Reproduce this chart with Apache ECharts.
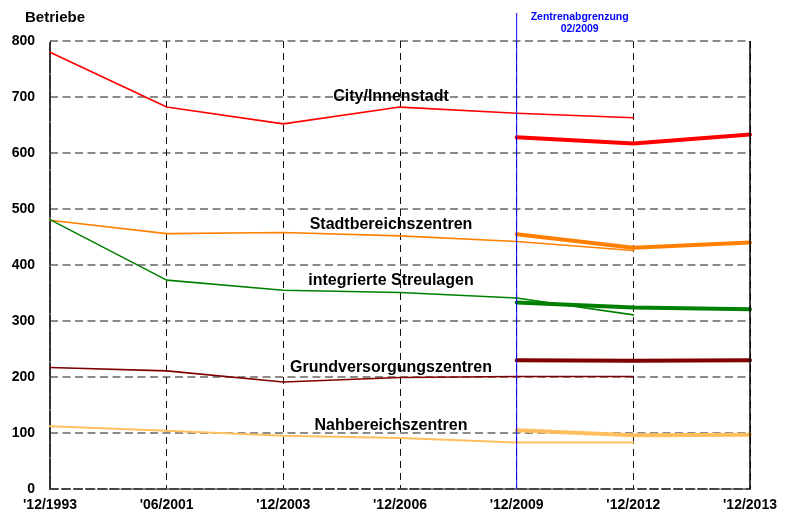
<!DOCTYPE html>
<html>
<head>
<meta charset="utf-8">
<script src="https://cdn.jsdelivr.net/npm/echarts@6/dist/echarts.min.js"></script>
<style>
  html, body { margin: 0; padding: 0; background: #fff; }
  #chart { width: 790px; height: 515px; }
</style>
</head>
<body>
<div id="chart"></div>
<script>
// Stichtage der Erhebungen
const categories = ["'12/1993", "'06/2001", "'12/2003", "'12/2006", "'12/2009", "'12/2012", "'12/2013"];

// Zahl der Betriebe nach alter Zentrenabgrenzung (bis 12/2012)
const cityOld         = [780, 682, 652, 682, 671, 663, null];
const stadtbereichOld = [480, 456, 458, 452, 442, 426, null];
const streulagenOld   = [481, 373, 355, 351, 341, 311, null];
const grundversOld    = [217, 211, 191, 199, 201, 201, null];
const nahbereichOld   = [112, 104, 95, 91, 83, 83, null];

// Zahl der Betriebe nach Zentrenabgrenzung 02/2009
const cityNew         = [null, null, null, null, 628, 617, 633];
const stadtbereichNew = [null, null, null, null, 455, 431, 440];
const streulagenNew   = [null, null, null, null, 333, 324, 321];
const grundversNew    = [null, null, null, null, 230, 229, 230];
const nahbereichNew   = [null, null, null, null, 105, 96, 97];

const yTicks = [0, 100, 200, 300, 400, 500, 600, 700, 800];

const FONT = '"Liberation Sans", Arial, sans-serif';

function line(name, data, color, width) {
  return {
    name: name,
    type: 'line',
    data: data,
    symbol: 'none',
    connectNulls: false,
    lineStyle: { color: color, width: width, join: 'round', cap: 'round' },
    itemStyle: { color: color },
    z: width > 2 ? 4 : 3,
    animation: false
  };
}

const chart = echarts.init(document.getElementById('chart'), null, { renderer: 'canvas' });

chart.setOption({
  animation: false,
  backgroundColor: '#ffffff',
  grid: { left: 50, right: 40, top: 41, bottom: 26 },
  xAxis: {
    type: 'category',
    data: categories,
    boundaryGap: false,
    axisLine: { show: true, lineStyle: { color: '#444', width: 2, type: [8, 4] } },
    axisTick: { show: false },
    axisLabel: {
      color: '#000', fontFamily: FONT, fontWeight: 'bold', fontSize: 14,
      margin: 9, interval: 0
    },
    splitLine: { show: true, lineStyle: { color: '#111', width: 1, type: [7, 5] } }
  },
  yAxis: {
    type: 'value',
    min: yTicks[0],
    max: yTicks[yTicks.length - 1],
    interval: 100,
    axisLine: { show: true, lineStyle: { color: '#333', width: 2, type: [14, 2] } },
    axisTick: { show: false },
    axisLabel: {
      color: '#000', fontFamily: FONT, fontWeight: 'bold', fontSize: 14,
      margin: 15
    },
    splitLine: { show: true, lineStyle: { color: '#666', width: 1.5, type: [8, 4.5] } }
  },
  series: [
    line('City/Innenstadt', cityOld, '#ff0000', 1.6),
    line('Stadtbereichszentren', stadtbereichOld, '#ff8000', 1.6),
    line('integrierte Streulagen', streulagenOld, '#008000', 1.6),
    line('Grundversorgungszentren', grundversOld, '#800000', 1.6),
    line('Nahbereichszentren', nahbereichOld, '#ffbf5f', 2),
    line('City/Innenstadt 2009', cityNew, '#ff0000', 4),
    line('Stadtbereichszentren 2009', stadtbereichNew, '#ff8000', 4),
    line('integrierte Streulagen 2009', streulagenNew, '#008000', 4),
    line('Grundversorgungszentren 2009', grundversNew, '#800000', 4),
    line('Nahbereichszentren 2009', nahbereichNew, '#ffbf5f', 4)
  ]
});

// Beschriftungen, Trennlinie Zentrenabgrenzung und rechter Rahmen
const xSplit = chart.convertToPixel({ xAxisIndex: 0 }, categories[4]);
const xRight = chart.convertToPixel({ xAxisIndex: 0 }, categories[6]);
const yTop = chart.convertToPixel({ yAxisIndex: 0 }, 800);
const yBottom = chart.convertToPixel({ yAxisIndex: 0 }, 0);
const xMid = chart.convertToPixel({ xAxisIndex: 0 }, categories[3]);

function seriesLabel(text, value) {
  return {
    type: 'text',
    x: xMid - 9,
    y: chart.convertToPixel({ yAxisIndex: 0 }, value),
    style: {
      text: text, fill: '#000', font: 'bold 16px ' + FONT,
      align: 'center', verticalAlign: 'middle'
    },
    z: 10
  };
}

chart.setOption({
  graphic: [
    {
      type: 'line',
      shape: { x1: xRight, y1: yTop, x2: xRight, y2: yBottom },
      style: { stroke: '#000', lineWidth: 1.5 },
      z: 5
    },
    {
      type: 'line',
      shape: { x1: xSplit, y1: 13, x2: xSplit, y2: yBottom },
      style: { stroke: '#0000ff', lineWidth: 1 },
      z: 6
    },
    {
      type: 'text',
      x: xSplit + 63,
      y: 23,
      style: {
        text: 'Zentrenabgrenzung\n02/2009', fill: '#0000ff',
        font: 'bold 10.5px ' + FONT, align: 'center', verticalAlign: 'middle',
        lineHeight: 12
      },
      z: 10
    },
    {
      type: 'text',
      x: 25,
      y: 18,
      style: {
        text: 'Betriebe', fill: '#000', font: 'bold 15px ' + FONT,
        align: 'left', verticalAlign: 'middle'
      },
      z: 10
    },
    seriesLabel('City/Innenstadt', 700),
    seriesLabel('Stadtbereichszentren', 473),
    seriesLabel('integrierte Streulagen', 373),
    seriesLabel('Grundversorgungszentren', 216),
    seriesLabel('Nahbereichszentren', 114)
  ]
});
</script>
</body>
</html>
